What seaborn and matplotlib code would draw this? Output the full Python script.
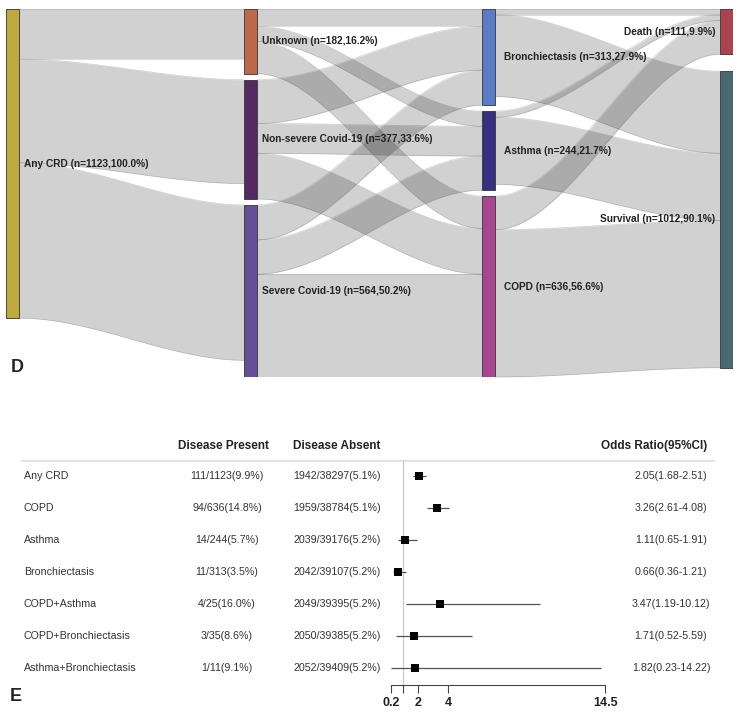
import numpy as np
import pandas as pd
import matplotlib
matplotlib.use('Agg')
import matplotlib.pyplot as plt
import seaborn as sns

# ---- Sankey data (panel D) ----
node_labels = ['Any CRD (n=1123,100.0%)', 'Unknown (n=182,16.2%)',
               'Non-severe Covid-19 (n=377,33.6%)', 'Severe Covid-19 (n=564,50.2%)',
               'Bronchiectasis (n=313,27.9%)', 'Asthma (n=244,21.7%)',
               'COPD (n=636,56.6%)', 'Death (n=111,9.9%)', 'Survival (n=1012,90.1%)']
node_col = [0, 1, 1, 1, 2, 2, 2, 3, 3]
node_colors = ['#bea93e', '#bd6848', '#552a62', '#654f97', '#5b7bc6',
               '#372f7f', '#a8478f', '#a8434f', '#4a6870']
link_src = [0, 0, 0, 1, 1, 1, 2, 2, 2, 3, 3, 3, 4, 4, 5, 5, 6, 6]
link_tgt = [1, 2, 3, 4, 5, 6, 4, 5, 6, 4, 5, 6, 7, 8, 7, 8, 7, 8]
link_val = [182, 377, 564, 63, 55, 117, 159, 108, 166, 127, 124, 374,
            20, 298, 22, 244, 122, 535]

# ---- Forest plot data (panel E) ----
groups = ['Any CRD', 'COPD', 'Asthma', 'Bronchiectasis', 'COPD+Asthma',
          'COPD+Bronchiectasis', 'Asthma+Bronchiectasis']
present = ['111/1123(9.9%)', '94/636(14.8%)', '14/244(5.7%)', '11/313(3.5%)',
           '4/25(16.0%)', '3/35(8.6%)', '1/11(9.1%)']
absent = ['1942/38297(5.1%)', '1959/38784(5.1%)', '2039/39176(5.2%)',
          '2042/39107(5.2%)', '2049/39395(5.2%)', '2050/39385(5.2%)',
          '2052/39409(5.2%)']
or_est = [2.05, 3.26, 1.11, 0.66, 3.47, 1.71, 1.82]
or_lo = [1.68, 2.61, 0.65, 0.36, 1.19, 0.52, 0.23]
or_hi = [2.51, 4.08, 1.91, 1.21, 10.12, 5.59, 14.22]
or_ticks = [0.2, 1, 2, 4, 14.5]
or_ticklabels = ['0.2', '', '2', '4', '14.5']

sns.set_theme(style='white')
plt.rcParams['font.family'] = ['Liberation Sans', 'DejaVu Sans']

W, H = 740, 713
fig = plt.figure(figsize=(W / 100, H / 100), dpi=100)

# ---------------- Sankey ----------------
node_w = 13 / 238
gaps = [0, 22, 22, 62]
n = len(node_labels)
inflow = np.zeros(n)
outflow = np.zeros(n)
for s, t, v in zip(link_src, link_tgt, link_val):
    outflow[s] += v
    inflow[t] += v
node_h = np.maximum(inflow, outflow)

node_y = np.zeros(n)
for c in range(4):
    y = 0
    for i in range(n):
        if node_col[i] == c:
            node_y[i] = y
            y += node_h[i] + gaps[c]
col_total = max(sum(node_h[i] for i in range(n) if node_col[i] == c) +
                gaps[c] * (node_col.count(c) - 1) for c in range(4))

ax = fig.add_axes([6 / W, 1 - 377 / H, 727 / W, 368 / H])
ax.set_xlim(0, 3 + node_w)
ax.set_ylim(col_total, 0)
ax.axis('off')

out_off = node_y.copy()
in_off = node_y.copy()
order = sorted(range(len(link_src)), key=lambda k: (link_src[k], node_y[link_tgt[k]]))
bands = []
for k in order:
    s, t, v = link_src[k], link_tgt[k], link_val[k]
    bands.append((k, out_off[s]))
    out_off[s] += v
tgt_pos = {}
for k in sorted(range(len(link_src)), key=lambda k: (link_tgt[k], node_y[link_src[k]])):
    tgt_pos[k] = in_off[link_tgt[k]]
    in_off[link_tgt[k]] += link_val[k]

tt = np.linspace(0, 1, 80)
ease = 3 * tt ** 2 - 2 * tt ** 3
for k, y0 in bands:
    s, t, v = link_src[k], link_tgt[k], link_val[k]
    x0 = node_col[s] + node_w
    x1 = node_col[t]
    y1 = tgt_pos[k]
    xs = x0 + (x1 - x0) * tt
    top = y0 + (y1 - y0) * ease
    ax.fill_between(xs, top, top + v, color='black', alpha=0.18, lw=0, zorder=1)
    ax.plot(xs, top, color='#888888', lw=0.4, alpha=0.5, zorder=1)
    ax.plot(xs, top + v, color='#888888', lw=0.4, alpha=0.5, zorder=1)

for i in range(n):
    ax.bar(node_col[i], node_h[i], bottom=node_y[i], width=node_w, align='edge',
           color=node_colors[i], edgecolor='#333333', linewidth=0.6, zorder=3)
    yc = node_y[i] + node_h[i] / 2
    if node_col[i] < 3:
        off = 5 / 238 if node_col[i] < 2 else 9 / 238
        ax.text(node_col[i] + node_w + off, yc, node_labels[i], ha='left', va='center',
                fontsize=7.3, fontweight='bold', color='#222222', zorder=4)
    else:
        ax.text(node_col[i] - 5 / 238, yc, node_labels[i], ha='right', va='center',
                fontsize=7.3, fontweight='bold', color='#222222', zorder=4)

fig.text(11 / W, 1 - 372 / H, 'D', fontsize=13, fontweight='bold', ha='left', va='baseline')

# ---------------- Forest plot ----------------
px_per = (605.3 - 391) / (14.5 - 0.2)
x_left = 0.2 - 391 / px_per
x_right = 0.2 + (W - 391) / px_per
row_y = np.arange(len(groups))
y_bot = (685 - 476) / 32

fx = fig.add_axes([0, 1 - 685 / H, 1, (685 - 460) / H])
fx.set_xlim(x_left, x_right)
fx.set_ylim(y_bot, -0.5)
for side in ['top', 'left', 'right']:
    fx.spines[side].set_visible(False)
fx.spines['bottom'].set_bounds(0.2, 14.5)
fx.spines['bottom'].set_color('#444444')
fx.spines['bottom'].set_linewidth(0.8)
fx.set_yticks([])
fx.set_xticks(or_ticks)
fx.set_xticklabels(or_ticklabels, fontweight='bold', fontsize=9, color='#222222')
fx.tick_params(axis='x', direction='out', length=6, width=0.8, color='#444444',
               pad=3, bottom=True)
fx.grid(False)

fx.axvline(1, color='#cccccc', lw=0.9, zorder=0)
fx.axhline(-0.5, xmin=22 / W, xmax=713 / W, color='#dddddd', lw=1.8, zorder=0)

fx.hlines(row_y, or_lo, or_hi, color='#555555', lw=0.9, zorder=2)
forest_df = pd.DataFrame({'OR': or_est, 'row': row_y})
sns.scatterplot(data=forest_df, x='OR', y='row', marker='s', s=34, color='black',
                edgecolor='none', ax=fx, zorder=3, legend=False)
fx.set_xlabel('')
fx.set_ylabel('')
fx.set_ylim(y_bot, -0.5)

tr = fx.get_yaxis_transform()
head_y = -0.5 - 14 / 32
fx.text(223 / W, head_y, 'Disease Present', transform=tr, ha='center', va='center',
        fontsize=8.5, fontweight='bold', color='#222222')
fx.text(337 / W, head_y, 'Disease Absent', transform=tr, ha='center', va='center',
        fontsize=8.5, fontweight='bold', color='#222222')
fx.text(707 / W, head_y, 'Odds Ratio(95%CI)', transform=tr, ha='right', va='center',
        fontsize=8.5, fontweight='bold', color='#222222')
for i in range(len(groups)):
    fx.text(24 / W, row_y[i], groups[i], transform=tr, ha='left', va='center',
            fontsize=7.7, color='#333333')
    fx.text(227 / W, row_y[i], present[i], transform=tr, ha='center', va='center',
            fontsize=7.7, color='#333333')
    fx.text(337 / W, row_y[i], absent[i], transform=tr, ha='center', va='center',
            fontsize=7.7, color='#333333')
    fx.text(671 / W, row_y[i], f'{or_est[i]:.2f}({or_lo[i]:.2f}-{or_hi[i]:.2f})',
            transform=tr, ha='center', va='center', fontsize=7.7, color='#333333')

fig.text(10 / W, 1 - 701 / H, 'E', fontsize=13, fontweight='bold', ha='left', va='baseline')

fig.savefig('out.png', dpi=100)
